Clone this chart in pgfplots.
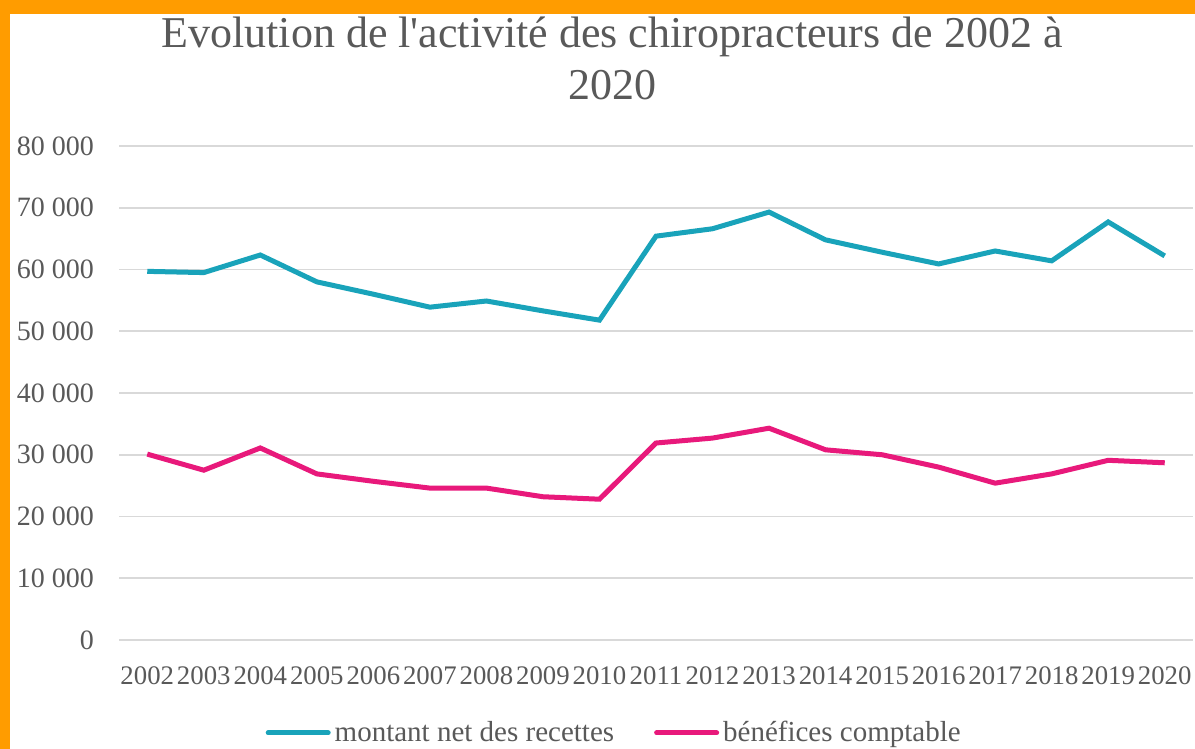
\documentclass[border=0pt]{standalone}
\usepackage{fontspec}
\setmainfont{Liberation Serif}
\usepackage{pgfplots}
\pgfplotsset{compat=1.18}
\definecolor{txtgray}{HTML}{595959}
\definecolor{gridgray}{HTML}{D9D9D9}
\definecolor{teal1}{HTML}{19A3BA}
\definecolor{pink1}{HTML}{E8197B}
\definecolor{frame1}{HTML}{FF9C00}

\begin{document}
\begin{tikzpicture}
\path[use as bounding box] (0,0) rectangle (597.5pt,-374.5pt);
\fill[frame1] (0,0) rectangle (5pt,-374.5pt);
\fill[frame1] (0,0) rectangle (597.5pt,-7pt);
\node[anchor=base, text=txtgray, font=\fontsize{22}{26}\selectfont] at (306pt,-24pt) {Evolution de l\textquotesingle activité des chiropracteurs de 2002 à};
\node[anchor=base, text=txtgray, font=\fontsize{22}{26}\selectfont] at (306pt,-50pt) {2020};
\begin{axis}[
    at={(59.5pt,-320pt)}, anchor=south west,
    scale only axis,
    width=537pt, height=247pt,
    xmin=-0.5, xmax=18.5,
    ymin=0, ymax=80000,
    axis line style={draw=none},
    major tick length=0pt,
    xtick={0,...,18},
    xticklabels={2002,2003,2004,2005,2006,2007,2008,2009,2010,2011,2012,2013,2014,2015,2016,2017,2018,2019,2020},
    ytick={0,10000,...,80000},
    ymajorgrids,
    major grid style={draw=gridgray, line width=0.8pt},
    ticklabel style={text=txtgray, font=\fontsize{14}{16}\selectfont},
    xticklabel style={yshift=-10pt, font=\fontsize{13.4}{16}\selectfont},
    yticklabel style={xshift=-9pt},
    /pgf/number format/assume math mode=true,
    /pgf/number format/1000 sep={\ },
    scaled y ticks=false,
    legend columns=2,
    legend style={at={(0.462,-0.188)}, anchor=center, draw=none, fill=none,
        font=\fontsize{14.5}{17}\selectfont, text=txtgray,
        /tikz/every even column/.append style={column sep=18pt}},
    legend image code/.code={\draw[#1, line width=2.5pt, line cap=round] (0pt,0pt) -- (30pt,0pt);},
]
\addplot[teal1, line width=2.5pt] coordinates {
(0,59700) (1,59500) (2,62350) (3,58000) (4,56000) (5,53900) (6,54900) (7,53300) (8,51800)
(9,65400) (10,66600) (11,69300) (12,64800) (13,62800) (14,60900) (15,63000) (16,61400) (17,67700) (18,62200)
};
\addlegendentry{montant net des recettes}
\addplot[pink1, line width=2.5pt] coordinates {
(0,30100) (1,27500) (2,31100) (3,26900) (4,25700) (5,24600) (6,24600) (7,23200) (8,22800)
(9,31900) (10,32700) (11,34300) (12,30800) (13,30000) (14,28000) (15,25400) (16,26900) (17,29100) (18,28700)
};
\addlegendentry{bénéfices comptable}
\end{axis}
\end{tikzpicture}
\end{document}
